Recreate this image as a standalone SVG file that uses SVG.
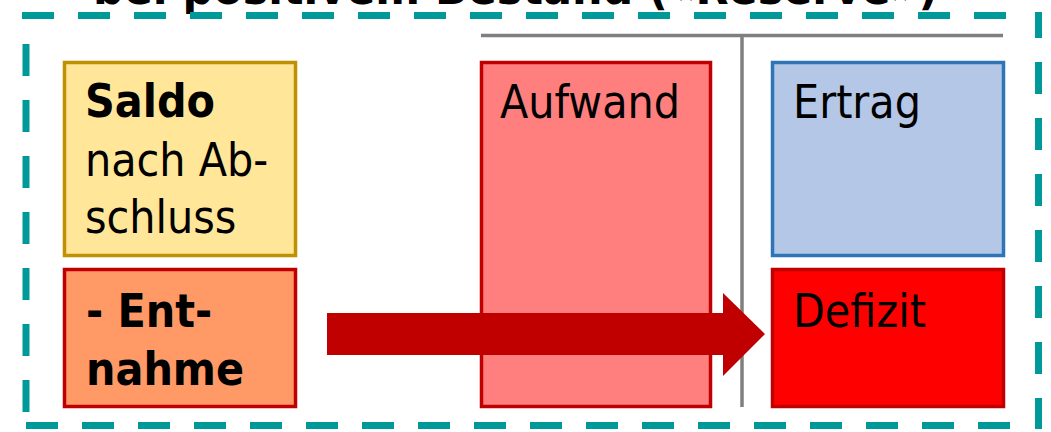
<svg xmlns="http://www.w3.org/2000/svg" width="1051" height="432" viewBox="0 0 1051 432">
<style>
.t{font-family:"DejaVu Sans Condensed","DejaVu Sans","Liberation Sans",sans-serif;font-size:46px;fill:#000}
.b{font-weight:bold}
.dash{stroke:#009999;stroke-width:7;fill:none;stroke-dasharray:32 24}
.gray{stroke:#7F7F7F;stroke-width:3.5;fill:none}
</style>
<rect width="1051" height="432" fill="#fff"/>
<g id="title">
<text class="t b" x="93" y="4" textLength="845" lengthAdjust="spacingAndGlyphs">bei positivem Bestand («Reserve»)</text>
</g>
<g id="frame">
<line class="dash" x1="22" y1="15.5" x2="1030" y2="15.5"/>
<line class="dash" x1="1038.5" y1="12" x2="1038.5" y2="429" stroke-dashoffset="6"/>
<line class="dash" x1="1010" y1="425.5" x2="22" y2="425.5"/>
<line class="dash" x1="26" y1="412" x2="26" y2="20"/>
</g>
<g id="aufwand">
<rect x="481.5" y="62.5" width="229" height="344" fill="#FF7F7F" stroke="#C00000" stroke-width="3.5"/>
<text class="t" x="500" y="118">Aufwand</text>
</g>
<g id="t-account">
<line class="gray" x1="481" y1="35.5" x2="1003" y2="35.5"/>
<line class="gray" x1="742" y1="35.5" x2="742" y2="407"/>
</g>
<g id="saldo">
<rect x="64.5" y="62.5" width="231" height="193" fill="#FFE699" stroke="#BF9000" stroke-width="3.5"/>
<text class="t b" x="85" y="117">Saldo</text>
<text class="t" x="85" y="176">nach Ab-</text>
<text class="t" x="85" y="233">schluss</text>
</g>
<g id="entnahme">
<rect x="64.5" y="269.5" width="231" height="137" fill="#FF9966" stroke="#C00000" stroke-width="3.5"/>
<text class="t b" x="86" y="327">- Ent-</text>
<text class="t b" x="86" y="385">nahme</text>
</g>
<g id="ertrag">
<rect x="772.5" y="62.5" width="231" height="193" fill="#B4C7E7" stroke="#2E75B6" stroke-width="3.5"/>
<text class="t" x="793" y="118">Ertrag</text>
</g>
<g id="defizit">
<rect x="772.5" y="269.5" width="231" height="137" fill="#FF0000" stroke="#C00000" stroke-width="3.5"/>
<text class="t" x="793" y="327">Defizit</text>
</g>
<g id="connectors">
<polygon points="327,313 723,313 723,293 765,334 723,376 723,355 327,355" fill="#C00000"/>
</g>
</svg>
